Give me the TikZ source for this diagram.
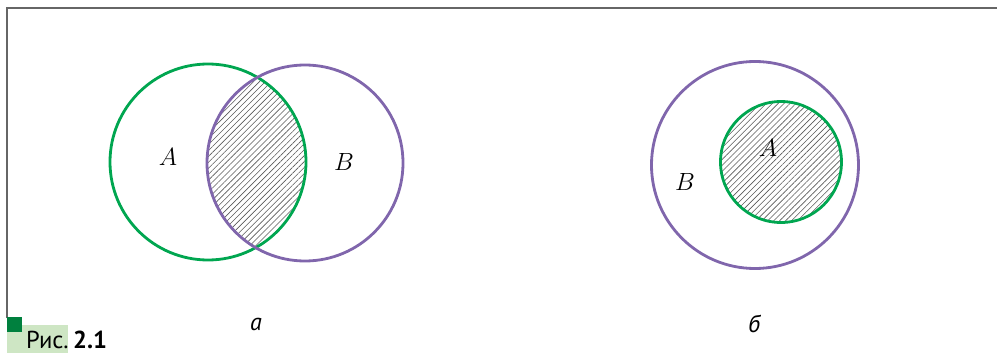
\documentclass[tikz,border=0pt]{standalone}
\usepackage{fontspec}
\newfontfamily\capfont{PT Sans}
\usetikzlibrary{patterns.meta}
\definecolor{setgreen}{RGB}{0,166,80}
\definecolor{setviolet}{RGB}{128,102,172}
\definecolor{capgreen}{RGB}{0,128,62}
\definecolor{caplight}{RGB}{206,230,196}
\begin{document}
\begin{tikzpicture}[x=1pt,y=-1pt,
		setA/.style={draw=setgreen,line width=2.8pt},
		setB/.style={draw=setviolet,line width=2.8pt},
		hatch/.style={pattern={Lines[angle=45,distance=4.2pt,line width=0.6pt]},pattern color=black!65},
		lab/.style={font=\fontsize{24}{28}\selectfont},
		sub/.style={font=\capfont\itshape\fontsize{24}{28}\selectfont}]
			\useasboundingbox (0,0) rectangle (997,353);
			% frame
			\coordinate (fbot) at (7,318);
			\coordinate (fcor) at (7,8);
			\coordinate (fend) at (997,8);
			\draw[black!60, line width=2pt] (fbot) -- (fcor) -- (fend);
			% a: intersection
			\begin{scope}
				\clip (208,162) circle[radius=98pt];
				\fill[hatch] (305,163) circle[radius=98pt];
			\end{scope}
			\draw[setA] (208,162) circle[radius=98pt];
			\draw[setB] (305,163) circle[radius=98pt];
			\node[lab] (la) at (168,157) {$A$};
			\node[lab] (lb) at (344,162) {$B$};
			\node[sub] (sa) at (256,324) {а};
			% b: subset
			\fill[hatch] (781,162) circle[radius=60.5pt];
			\draw[setB] (755,165) circle[radius=103.5pt];
			\draw[setA] (781,162) circle[radius=60.5pt];
			\node[lab] (ra) at (768,148) {$A$};
			\node[lab] (rb) at (685,182) {$B$};
			\node[sub] (sb) at (754,324) {б};
			% caption
			\fill[caplight] (7,325) rectangle (68,353);
			\fill[capgreen] (7,317) rectangle (22,332);
			\node[anchor=base west, inner sep=0pt, font=\capfont\fontsize{24.5}{28}\selectfont] (cap) at (26,348) {Рис.\hspace{0.18em}\textbf{2.1}};
		\end{tikzpicture}
\end{document}
